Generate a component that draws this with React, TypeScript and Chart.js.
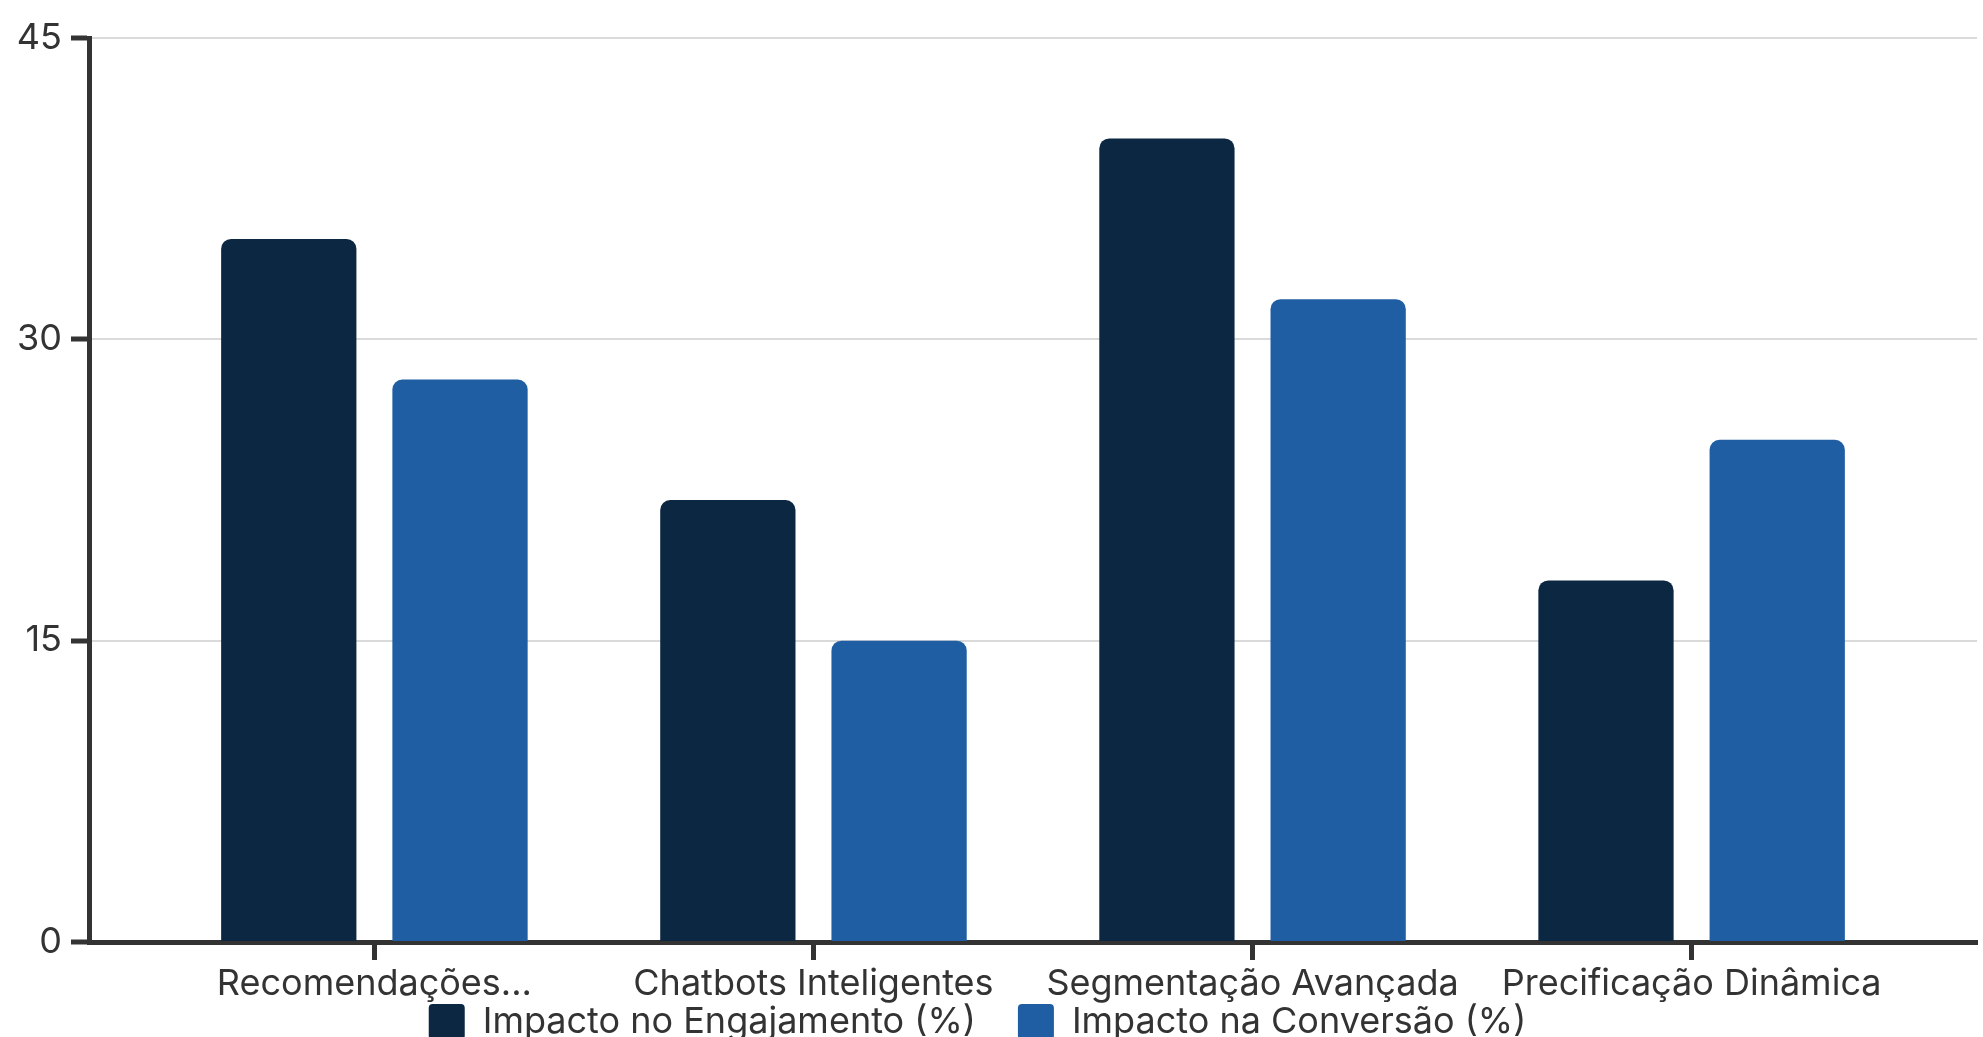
import React, { useEffect, useRef } from 'react';
import { Chart, registerables } from 'chart.js';

Chart.register(...registerables);

const categories = ['Recomendações...', 'Chatbots Inteligentes', 'Segmentação Avançada', 'Precificação Dinâmica'];
const engagement = [35, 22, 40, 18];
const conversion = [28, 15, 32, 25];
const seriesNames = ['Impacto no Engajamento (%)', 'Impacto na Conversão (%)'];
const seriesColors = ['#0c2742', '#1f5ea3'];
const yTicks = [0, 15, 30, 45];

export default function App() {
  const ref = useRef<HTMLCanvasElement | null>(null);

  useEffect(() => {
    if (!ref.current) return;
    Chart.defaults.font.family = 'Inter, sans-serif';
    Chart.defaults.font.size = 36;
    Chart.defaults.color = '#333333';

    const layoutTweaks = {
      id: 'layoutTweaks',
      afterLayout(chart: any) {
        // let x tick labels draw below the (compact) x-axis box
        chart.scales.x.bottom = chart.height;
        // nudge legend to match reference centering
        if (chart.legend) {
          chart.legend.left -= 11;
          chart.legend.right -= 11;
        }
      },
    };

    const chart = new Chart(ref.current, {
      type: 'bar',
      data: {
        datasets: [
          {
            label: seriesNames[0],
            data: engagement.map((v, i) => ({ x: i, y: v })),
            backgroundColor: seriesColors[0],
            borderRadius: 10,
            borderWidth: 0,
          },
          {
            label: seriesNames[1],
            data: conversion.map((v, i) => ({ x: i, y: v })),
            backgroundColor: seriesColors[1],
            borderRadius: 10,
            borderWidth: 0,
          },
        ],
      },
      plugins: [layoutTweaks],
      options: {
        animation: false,
        responsive: true,
        maintainAspectRatio: false,
        layout: { padding: { top: 38, right: 6, bottom: 0, left: 0 } },
        datasets: { bar: { categoryPercentage: 0.78, barPercentage: 0.79 } } as any,
        plugins: {
          tooltip: { enabled: false },
          legend: {
            position: 'bottom',
            labels: {
              boxWidth: 36,
              boxHeight: 36,
              padding: 42,
              useBorderRadius: true,
              borderRadius: 4,
              color: '#333333',
              font: { size: 36 },
            },
          },
        },
        scales: {
          x: {
            type: 'linear',
            offset: false,
            min: -0.65,
            max: 3.65,
            afterBuildTicks: (scale: any) => {
              scale.ticks = categories.map((_, i) => ({ value: i }));
            },
            afterFit: (scale: any) => {
              scale.height = 20;
            },
            ticks: {
              stepSize: 1,
              padding: 3,
              maxRotation: 0,
              autoSkip: false,
              color: '#333333',
              font: { size: 36 },
              callback: (v: any) => categories[Math.round(Number(v))] ?? '',
            },
            grid: {
              offset: false,
              drawOnChartArea: false,
              drawTicks: true,
              tickLength: 18,
              tickColor: '#333333',
              tickWidth: 5,
            },
            border: { display: true, color: '#333333', width: 5 },
          },
          y: {
            min: 0,
            max: 45,
            afterBuildTicks: (scale: any) => {
              scale.ticks = yTicks.map((v) => ({ value: v }));
            },
            afterFit: (scale: any) => {
              scale.width = 89;
            },
            ticks: {
              stepSize: 15,
              padding: 9,
              color: '#333333',
              font: { size: 36 },
            },
            grid: {
              color: '#dadada',
              lineWidth: 2,
              tickLength: 18,
              tickColor: '#333333',
              tickWidth: 5,
            },
            border: { display: true, color: '#333333', width: 5 },
          },
        },
      },
    });
    return () => chart.destroy();
  }, []);

  return (
    <div style={{ position: 'fixed', left: 0, top: 0, width: '100vw', height: '100vh', overflow: 'hidden', background: '#fff' }}>
      <div style={{ position: 'absolute', left: 0, top: 0, width: 1983, height: 1050 }}>
        <canvas ref={ref} />
      </div>
    </div>
  );
}
